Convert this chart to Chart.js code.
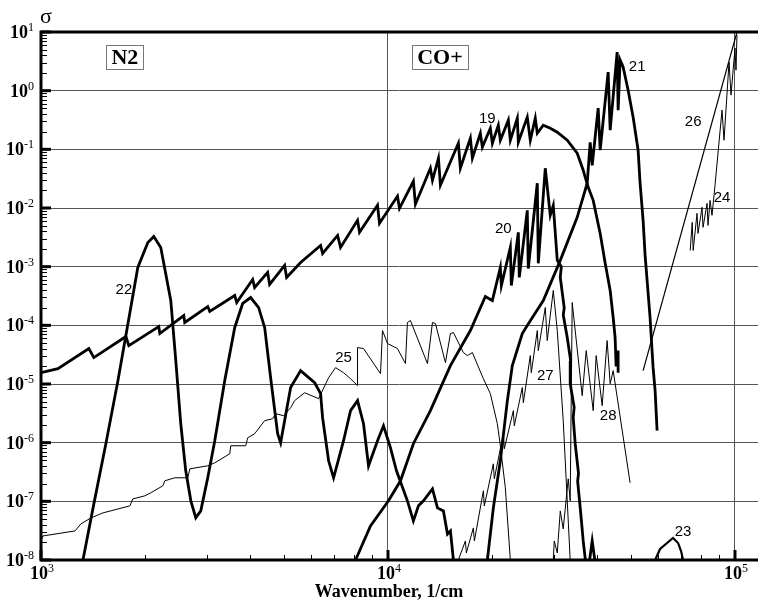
<!DOCTYPE html>
<html><head><meta charset="utf-8">
<script src="https://cdn.jsdelivr.net/npm/chart.js@4.4.1/dist/chart.umd.min.js"></script>
<style>html,body{margin:0;padding:0;background:#fff;}canvas{display:block;}</style>
</head><body>
<canvas id="c" width="758" height="603"></canvas>
<script>
const xTicks = [1e3, 1e4, 1e5];
const xTickExp = ['3', '4', '5'];
const yTicks = [1e-8, 1e-7, 1e-6, 1e-5, 1e-4, 1e-3, 1e-2, 1e-1, 1, 10];
const yTickExp = ['-8', '-7', '-6', '-5', '-4', '-3', '-2', '-1', '0', '1'];

const curve19 = [[1000,1.56e-5],[1119,1.83e-5],[1374,4.02e-5],[1420,2.82e-5],[1757,6.44e-5],[1791,4.52e-5],[2185,9.5e-5],[2200,7.24e-5],[2579,1.47e-4],[2596,1.12e-4],[3024,2.09e-4],[3064,1.72e-4],[3617,3.23e-4],[3664,2.45e-4],[4074,6.05e-4],[4128,4.42e-4],[4499,7.97e-4],[4560,4.97e-4],[5036,1.05e-3],[5103,6.55e-4],[5600,1.18e-3],[6394,2.3e-3],[6479,1.68e-3],[7157,3.41e-3],[7300,2.13e-3],[8170,6.16e-3],[8279,3.84e-3],[9328,1.11e-2],[9452,5.47e-3],[10650,1.58e-2],[10792,9.87e-3],[11836,2.85e-2],[11995,1.16e-2],[13250,4.76e-2],[13432,2.97e-2],[13977,7.05e-2],[14162,2.44e-2],[15953,0.127],[16165,0.0476],[17275,0.155],[17506,0.0705],[18460,0.188],[18705,0.109],[19724,0.229],[19987,0.127],[20797,0.258],[21074,0.143],[22225,0.314],[22520,0.143],[23589,0.34],[23747,0.132],[25200,0.354],[25710,0.143],[26575,0.34],[26930,0.188],[28025,0.258],[29354,0.229],[30750,0.196],[32854,0.143],[35096,0.0859],[36527,0.044],[37757,0.0225],[39030,0.0135],[40880,3.69e-3],[42260,1.14e-3],[43680,3.93e-4],[44560,1.36e-4],[45140,6.19e-5],[45440,2.0e-5],[46050,3.71e-5],[46050,1.56e-5]];

const curve20 = [[8063,1e-8],[8903,3.81e-8],[10033,1.02e-7],[10864,2.24e-7],[11836,9.6e-7],[13250,3.51e-6],[15133,2.06e-5],[17275,8.15e-5],[19080,3.1e-4],[19987,2.65e-4],[21074,9.7e-4],[21220,4.78e-4],[22520,2.13e-3],[22670,4.78e-4],[23747,3.84e-3],[23900,6.55e-4],[25200,9.13e-3],[25370,9.3e-4],[26930,0.0264],[27110,1.14e-3],[28396,0.0476],[29354,7.5e-3],[29946,0.0111],[30750,1.28e-3],[31580,1.0e-3],[31370,6.55e-4],[32200,2.0e-4],[32000,1.5e-4],[32854,6.19e-5],[33600,2.5e-5],[33505,1.01e-5],[34400,4.0e-6],[34178,2.66e-6],[34636,9.6e-7],[35400,3.0e-7],[35200,2.2e-7],[35810,7.73e-8],[36527,2.11e-8],[37010,1.08e-8],[37505,5e-9],[38770,2.11e-8],[40080,5e-9]];

const curve21 = [[19335,1e-8],[20120,7.73e-8],[21074,4.91e-7],[22080,5.2e-6],[22820,2.06e-5],[24380,7.24e-5],[25200,9.9e-5],[28025,2.65e-4],[31370,1.28e-3],[35096,6.93e-3],[37505,0.0264],[38256,0.132],[38770,0.0535],[40340,0.504],[40880,0.0966],[43100,2.07],[43680,0.212],[45750,4.55],[46050,0.466],[46670,3.32],[47600,2.53],[49210,1.02],[50870,0.354],[52580,0.0966],[53280,0.0264],[54350,6.16e-3],[55080,1.56e-3],[56920,1.36e-4],[58080,1.9e-5],[58860,7.7e-6],[59640,1.6e-6]];

const curve22 = [[1321,1e-8],[1420,9.05e-8],[1538,9.6e-7],[1666,1.14e-5],[1901,9.7e-4],[2032,2.59e-3],[2114,3.28e-3],[2214,2.13e-3],[2366,2.65e-4],[2446,2.5e-5],[2528,2.1e-6],[2613,3.31e-7],[2703,1.02e-7],[2793,5.22e-8],[2887,6.87e-8],[3024,2.52e-7],[3168,1.08e-6],[3384,1.14e-5],[3617,9.2e-5],[3813,2.36e-4],[4020,2.98e-4],[4239,2.01e-4],[4411,9.2e-5],[4590,1.28e-5],[4808,1.42e-6],[4904,9.96e-7],[5241,8.7e-6],[5600,1.69e-5],[6146,1.05e-5],[6394,6.84e-6],[6479,2.66e-6],[6743,4.91e-7],[6970,2.52e-7],[7446,1.08e-6],[7800,3.51e-6],[8170,5.2e-6],[8501,2.1e-6],[8788,4.03e-7],[9328,1.08e-6],[9707,1.94e-6],[10167,8.18e-7],[10580,3.31e-7],[11375,1.02e-7],[11836,4.64e-8],[12240,8.37e-8],[12653,1.02e-7],[13432,1.63e-7],[13885,7.73e-8],[14446,6.87e-8],[14840,2.78e-8],[15133,3.13e-8],[15437,1e-8],[15500,5e-9]];

const curve23 = [[58860,1e-8],[60830,1.54e-8],[63710,1.95e-8],[66300,2.38e-8],[68550,1.95e-8],[69950,1.41e-8],[70870,1e-8]];

const curve24 = [[74290,1.89e-3],[75290,5.69e-3],[75780,1.89e-3],[77730,8.11e-3],[78250,3.69e-3],[80350,0.0103],[80890,4.68e-3],[83070,0.012],[83620,5.06e-3],[84750,0.0135],[85860,7.5e-3],[87580,0.0244],[91750,0.466],[92980,0.143],[96130,3.07],[97400,0.84],[100000,5.33],[100670,2.24],[101340,8.9]];

const curve25 = [[1000,2.11e-8],[1013,2.57e-8],[1253,3.13e-8],[1303,4.12e-8],[1393,5.22e-8],[1508,6.35e-8],[1804,8.37e-8],[1839,1.1e-7],[1992,1.24e-7],[2073,1.4e-7],[2244,1.84e-7],[2275,2.24e-7],[2429,2.52e-7],[2649,2.52e-7],[2685,3.58e-7],[3024,4.03e-7],[3168,4.54e-7],[3499,6.46e-7],[3522,8.86e-7],[3890,8.86e-7],[3942,1.21e-6],[4128,1.42e-6],[4411,2.37e-6],[4651,2.56e-6],[4745,3.12e-6],[5003,2.88e-6],[5241,3.95e-6],[5381,5.2e-6],[5750,7.1e-6],[6310,5.62e-6],[6743,1.28e-5],[7063,1.9e-5],[7446,1.56e-5],[7800,1.23e-5],[8170,9.4e-6],[8170,4.18e-5],[8501,4.02e-5],[9515,1.5e-5],[9643,8.15e-5],[9968,4.89e-5],[10650,4.02e-5],[11228,2.23e-5],[11375,1.12e-4],[11604,1.21e-4],[12993,2.23e-5],[13432,1.12e-4],[13702,1.07e-4],[14641,2.31e-5],[15133,7.24e-5],[15437,7.53e-5],[16492,3.43e-5],[16935,3.05e-5],[17506,3.43e-5],[18830,1.23e-5],[19724,6.84e-6],[20660,2.1e-6],[21074,8.86e-7],[21786,1.7e-7],[22520,1e-8],[22700,5e-9]];

const curve26 = [[54350,1.69e-5],[101340,10]];

const curve27 = [[15953,1e-8],[16710,2.11e-8],[16820,1.32e-8],[17620,3.52e-8],[17740,2.11e-8],[18830,1.51e-7],[18950,8.37e-8],[20120,4.36e-7],[20250,2.42e-7],[21498,1.42e-6],[21640,7.87e-7],[22973,3.51e-6],[23120,1.94e-6],[24380,8.7e-6],[24550,4.8e-6],[25710,3.05e-5],[25880,1.56e-5],[26930,8.15e-5],[27110,3.71e-5],[28396,2.01e-4],[28770,5.5e-5],[29946,3.93e-4],[30750,8.15e-5],[31990,2.37e-6],[33505,1e-8],[33700,5e-9]];

const curve28 = [[29946,1e-8],[30140,2.11e-8],[30750,1.32e-8],[31370,6.87e-8],[31990,3.39e-8],[33070,2.42e-7],[33505,1.02e-7],[33950,2.45e-4],[36280,6.32e-6],[37260,3.71e-5],[39030,3.51e-6],[39810,3.05e-5],[41420,4.27e-6],[42810,5.5e-5],[43680,1.01e-5],[44560,1.69e-5],[49860,2.07e-7]];

const curveLabels = [['19',19335,0.327],['20',21498,4.33e-3],['21',52240,2.53],['22',1734,4.08e-4],['23',70870,3.01e-8],['24',91750,0.0146],['25',7446,2.82e-5],['26',75780,0.29],['27',28396,1.39e-5],['28',43100,2.88e-6]];
const boxLabels = [['N2',1745,3.74],['CO+',14120,3.74]];

const series = [
  {name:'19', data:curve19, w:2.8},
  {name:'20', data:curve20, w:2.8},
  {name:'21', data:curve21, w:2.8},
  {name:'22', data:curve22, w:2.8},
  {name:'23', data:curve23, w:2.2},
  {name:'24', data:curve24, w:1},
  {name:'25', data:curve25, w:1},
  {name:'26', data:curve26, w:1.2},
  {name:'27', data:curve27, w:1},
  {name:'28', data:curve28, w:1}
];

const datasets = series.map(s => ({
  label: s.name,
  data: s.data.map(p => ({x: p[0], y: p[1]})),
  showLine: true,
  borderColor: '#000',
  backgroundColor: '#000',
  borderWidth: s.w,
  pointRadius: 0,
  tension: 0,
  fill: false
}));

const SERIF = '"Liberation Serif", "Times New Roman", serif';
const SANS = '"Liberation Sans", Arial, sans-serif';

function drawPow(ctx, exp, x, y, align) {
  ctx.font = 'bold 18px ' + SERIF;
  const wb = ctx.measureText('10').width;
  ctx.font = '12px ' + SERIF;
  const we = ctx.measureText(exp).width;
  const sx = align === 'right' ? x - wb - we : x - (wb + we) / 2 + 1;
  ctx.textAlign = 'left';
  ctx.textBaseline = 'alphabetic';
  ctx.font = 'bold 18px ' + SERIF;
  ctx.fillText('10', sx, y);
  ctx.font = '12px ' + SERIF;
  ctx.fillText(exp, sx + wb, y - 7);
}

const decor = {
  id: 'decor',
  afterDatasetsDraw(chart) {
    const ctx = chart.ctx, xs = chart.scales.x, ys = chart.scales.y, ca = chart.chartArea;
    ctx.save();
    ctx.fillStyle = '#000';
    ctx.strokeStyle = '#000';
    yTicks.forEach((v, i) => {
      const py = ys.getPixelForValue(v);
      ctx.lineWidth = 3;
      ctx.beginPath(); ctx.moveTo(ca.left, py); ctx.lineTo(ca.left + 10, py); ctx.stroke();
      if (i < yTicks.length - 1) {
        ctx.lineWidth = 1;
        for (let m = 2; m <= 9; m++) {
          const p = Math.round(ys.getPixelForValue(v * m)) + 0.5;
          ctx.beginPath(); ctx.moveTo(ca.left, p); ctx.lineTo(ca.left + 6, p); ctx.stroke();
        }
      }
    });
    xTicks.forEach(v => {
      const px = xs.getPixelForValue(v);
      ctx.lineWidth = 3;
      ctx.beginPath(); ctx.moveTo(px, ca.bottom); ctx.lineTo(px, ca.bottom - 10); ctx.stroke();
      ctx.lineWidth = 1;
      for (let m = 2; m <= 9; m++) {
        const p = Math.round(xs.getPixelForValue(v * m)) + 0.5;
        if (p > ca.right) continue;
        ctx.beginPath(); ctx.moveTo(p, ca.bottom); ctx.lineTo(p, ca.bottom - 5); ctx.stroke();
      }
    });
    ctx.lineWidth = 3;
    ctx.beginPath();
    ctx.moveTo(ca.right + 2, ca.top); ctx.lineTo(ca.left, ca.top); ctx.lineTo(ca.left, ca.bottom); ctx.lineTo(ca.right + 2, ca.bottom);
    ctx.stroke();
    yTicks.forEach((v, i) => {
      drawPow(ctx, yTickExp[i], 34, ys.getPixelForValue(v) + 6, 'right');
    });
    xTicks.forEach((v, i) => {
      drawPow(ctx, xTickExp[i], xs.getPixelForValue(v), ca.bottom + 19, 'center');
    });
    ctx.font = '22px ' + SERIF;
    ctx.textAlign = 'left'; ctx.textBaseline = 'alphabetic';
    ctx.fillText('σ', 40, 23);
    ctx.font = 'bold 18px ' + SERIF;
    ctx.textAlign = 'center';
    ctx.fillText('Wavenumber, 1/cm', 389, 597);
    ctx.font = '15px ' + SANS;
    ctx.textAlign = 'center'; ctx.textBaseline = 'middle';
    curveLabels.forEach(l => {
      ctx.fillText(l[0], xs.getPixelForValue(l[1]), ys.getPixelForValue(l[2]));
    });
    boxLabels.forEach(l => {
      const cx = xs.getPixelForValue(l[1]), cy = ys.getPixelForValue(l[2]);
      ctx.font = 'bold 22px ' + SERIF;
      const w = ctx.measureText(l[0]).width + 10, h = 24;
      ctx.fillStyle = '#fff';
      ctx.fillRect(cx - w / 2, cy - h / 2, w, h);
      ctx.strokeStyle = '#777'; ctx.lineWidth = 1;
      ctx.strokeRect(Math.round(cx - w / 2) + 0.5, Math.round(cy - h / 2) + 0.5, Math.round(w), h);
      ctx.fillStyle = '#000';
      ctx.textAlign = 'center'; ctx.textBaseline = 'middle';
      ctx.fillText(l[0], cx, cy + 1);
    });
    ctx.restore();
  }
};

new Chart(document.getElementById('c'), {
  type: 'scatter',
  data: {datasets},
  options: {
    responsive: false,
    animation: false,
    devicePixelRatio: 1,
    layout: {padding: {left: 41, top: 32, right: 0, bottom: 43}},
    plugins: {legend: {display: false}, tooltip: {enabled: false}},
    scales: {
      x: {
        type: 'logarithmic', min: 1000, max: 116500,
        ticks: {display: false},
        grid: {color: '#555', lineWidth: 1, drawTicks: false},
        border: {display: false},
        afterBuildTicks: s => { s.ticks = xTicks.map(v => ({value: v})); }
      },
      y: {
        type: 'logarithmic', min: 1e-8, max: 10,
        ticks: {display: false},
        grid: {color: '#555', lineWidth: 1, drawTicks: false},
        border: {display: false},
        afterBuildTicks: s => { s.ticks = yTicks.map(v => ({value: v})); }
      }
    }
  },
  plugins: [decor]
});
</script>
</body></html>
